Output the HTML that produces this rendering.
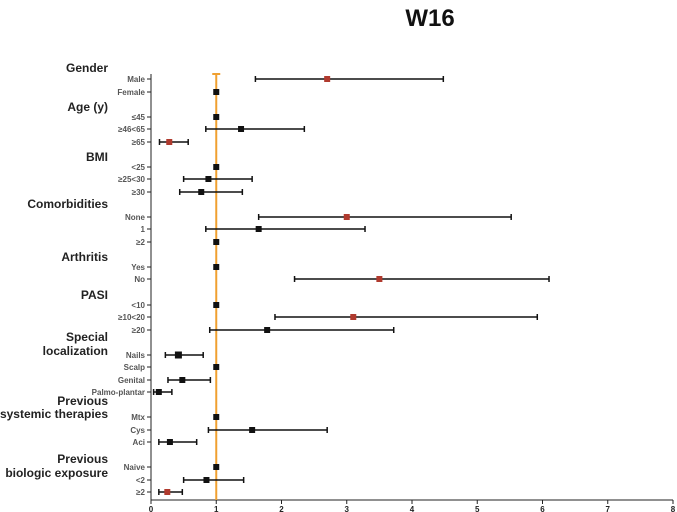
<!DOCTYPE html>
<html><head><meta charset="utf-8"><style>
body{margin:0;background:#fff;}
svg{display:block;font-family:"Liberation Sans",Arial,sans-serif;}
</style></head><body>
<svg id="chart" width="677" height="512" viewBox="0 0 677 512">
<text x="430" y="26" font-size="24" font-weight="bold" text-anchor="middle" fill="#111">W16</text>
<g id="headers"></g><g id="axis"></g><g id="marks"></g>
</svg>
<script>
const labels=["Male","Female","≥45","≥46<65","≥65","<25","≥25<30","≥30","None","1","≥2","Yes","No","<10","≥10<20","≥20","Nails","Scalp","Genital","Palmo-plantar","Mtx","Cys","Aci","Naive","<2","≥2"];
labels[2]="≤45";
const rowY=[79,92,117,129,142,167,179,192,217,229,242,267,279,305,317,330,355,367,380,392,417,430,442,467,480,492];
const est=[2.7,1,1,1.38,0.28,1,0.88,0.77,3.0,1.65,1,1,3.5,1,3.1,1.78,0.42,1,0.48,0.12,1,1.55,0.29,1,0.85,0.25];
const lo=[1.6,null,null,0.84,0.13,null,0.5,0.44,1.65,0.84,null,null,2.2,null,1.9,0.9,0.22,null,0.26,0.04,null,0.88,0.12,null,0.5,0.12];
const hi=[4.48,null,null,2.35,0.57,null,1.55,1.4,5.52,3.28,null,null,6.1,null,5.92,3.72,0.8,null,0.91,0.32,null,2.7,0.7,null,1.42,0.48];
const red=[1,0,0,0,1,0,0,0,1,0,0,0,1,0,1,0,0,0,0,0,0,0,0,0,0,1];
const ticks=[0,1,2,3,4,5,6,7,8];
const headers=[["Gender",72],["Age (y)",111],["BMI",161],["Comorbidities",208],["Arthritis",261],["PASI",299],["Special",341],["localization",355],["Previous",405],["systemic therapies",418],["Previous",463],["biologic exposure",477]];
const NS="http://www.w3.org/2000/svg";
const X=v=>151+v*65.25;
function mk(p,tag,a,t){const e=document.createElementNS(NS,tag);for(const k in a)e.setAttribute(k,a[k]);if(t!==undefined)e.textContent=t;p.appendChild(e);return e;}
const H=document.getElementById('headers'),A=document.getElementById('axis'),M=document.getElementById('marks');
headers.forEach(h=>{const e=mk(H,'text',{x:108,y:h[1],'font-size':12,'font-weight':'bold','text-anchor':'end',fill:'#222'},h[0]);

});
let ax=mk(A,'line',{x1:151,y1:74,x2:151,y2:500,stroke:'#222','stroke-width':1});


let xa=mk(A,'line',{x1:151,y1:500,x2:673,y2:500,stroke:'#222','stroke-width':1});


ticks.forEach(t=>{mk(A,'line',{x1:X(t),y1:500,x2:X(t),y2:504,stroke:'#222'});
const e=mk(A,'text',{x:X(t),y:512,'font-size':8,'font-weight':'bold','text-anchor':'middle',fill:'#222'},t);

});
labels.forEach((l,i)=>{mk(A,'line',{x1:147,y1:rowY[i],x2:151,y2:rowY[i],stroke:'#222'});
const e=mk(A,'text',{x:145,y:rowY[i]+3,'font-size':8,'font-weight':'bold','text-anchor':'end',fill:'#555'},l);

});
let ref=mk(M,'line',{x1:X(1),y1:74,x2:X(1),y2:500,stroke:'#f0a030','stroke-width':2});


mk(M,'line',{x1:X(1)-4,y1:74,x2:X(1)+4,y2:74,stroke:'#f0a030','stroke-width':2});
labels.forEach((l,i)=>{const y=rowY[i];
if(lo[i]!==null){const g=mk(M,'g',{stroke:'#111','stroke-width':1.5});


mk(g,'line',{x1:X(lo[i]),y1:y,x2:X(hi[i]),y2:y});
mk(g,'line',{x1:X(lo[i]),y1:y-3,x2:X(lo[i]),y2:y+3});
mk(g,'line',{x1:X(hi[i]),y1:y-3,x2:X(hi[i]),y2:y+3});}
const s=(l==="Nails")?7:6;
const r=mk(M,'rect',{x:X(est[i])-s/2,y:y-s/2,width:s,height:s,fill:red[i]?'#b03a2e':'#111'});

});
</script>
</body></html>
